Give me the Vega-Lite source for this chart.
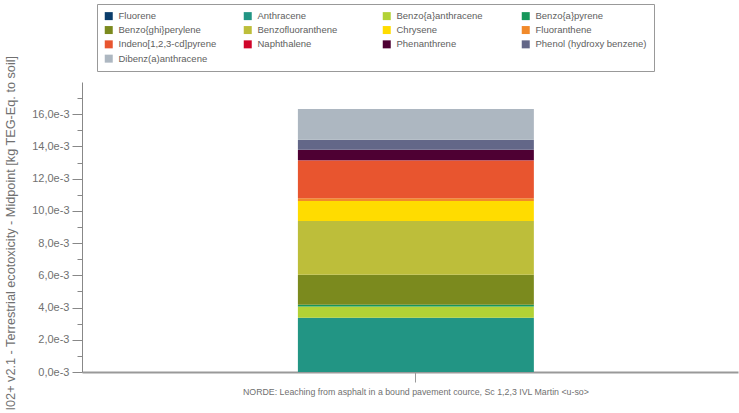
{
  "$schema": "https://vega.github.io/schema/vega-lite/v6.json",
  "width": 656,
  "height": 290,
  "autosize": {"type": "none"},
  "padding": {"left": 82, "top": 82, "right": 1, "bottom": 41},
  "background": "white",
  "config": {
    "view": {"stroke": null},
    "font": "Liberation Sans",
    "axis": {"grid": false, "labelFont": "Liberation Sans", "titleFont": "Liberation Sans"}
  },
  "data": {
    "values": [
      {"s": "NORDE: Leaching from asphalt in a bound pavement cource, Sc 1,2,3 IVL Martin <u-so>", "c": "Fluorene", "k": 1, "v": 0.0},
      {"s": "NORDE: Leaching from asphalt in a bound pavement cource, Sc 1,2,3 IVL Martin <u-so>", "c": "Anthracene", "k": 2, "v": 0.00336},
      {"s": "NORDE: Leaching from asphalt in a bound pavement cource, Sc 1,2,3 IVL Martin <u-so>", "c": "Benzo{a}anthracene", "k": 3, "v": 0.00070},
      {"s": "NORDE: Leaching from asphalt in a bound pavement cource, Sc 1,2,3 IVL Martin <u-so>", "c": "Benzo{a}pyrene", "k": 4, "v": 0.00012},
      {"s": "NORDE: Leaching from asphalt in a bound pavement cource, Sc 1,2,3 IVL Martin <u-so>", "c": "Benzo{ghi}perylene", "k": 5, "v": 0.00186},
      {"s": "NORDE: Leaching from asphalt in a bound pavement cource, Sc 1,2,3 IVL Martin <u-so>", "c": "Benzofluoranthene", "k": 6, "v": 0.00334},
      {"s": "NORDE: Leaching from asphalt in a bound pavement cource, Sc 1,2,3 IVL Martin <u-so>", "c": "Chrysene", "k": 7, "v": 0.00124},
      {"s": "NORDE: Leaching from asphalt in a bound pavement cource, Sc 1,2,3 IVL Martin <u-so>", "c": "Fluoranthene", "k": 8, "v": 0.00017},
      {"s": "NORDE: Leaching from asphalt in a bound pavement cource, Sc 1,2,3 IVL Martin <u-so>", "c": "Indeno[1,2,3-cd]pyrene", "k": 9, "v": 0.00233},
      {"s": "NORDE: Leaching from asphalt in a bound pavement cource, Sc 1,2,3 IVL Martin <u-so>", "c": "Naphthalene", "k": 10, "v": 0.00003},
      {"s": "NORDE: Leaching from asphalt in a bound pavement cource, Sc 1,2,3 IVL Martin <u-so>", "c": "Phenanthrene", "k": 11, "v": 0.00064},
      {"s": "NORDE: Leaching from asphalt in a bound pavement cource, Sc 1,2,3 IVL Martin <u-so>", "c": "Phenol (hydroxy benzene)", "k": 12, "v": 0.00062},
      {"s": "NORDE: Leaching from asphalt in a bound pavement cource, Sc 1,2,3 IVL Martin <u-so>", "c": "Dibenz(a)anthracene", "k": 13, "v": 0.00192}
    ]
  },
  "mark": {"type": "bar", "stroke": null},
  "encoding": {
    "x": {
      "field": "s",
      "type": "nominal",
      "scale": {"paddingInner": 0, "paddingOuter": 0.89, "align": 0.514},
      "axis": {
        "title": null,
        "labelAngle": 0,
        "labelFontSize": 8.8,
        "labelColor": "#707070",
        "labelPadding": 5,
        "labelLimit": 700,
        "domainColor": "#999999",
        "domainWidth": 2,
        "tickColor": "#999999",
        "tickSize": 10,
        "tickWidth": 1
      }
    },
    "y": {
      "field": "v",
      "type": "quantitative",
      "stack": "zero",
      "scale": {"domain": [0, 0.018], "nice": false},
      "axis": {
        "values": [0, 0.001, 0.002, 0.003, 0.004, 0.005, 0.006, 0.007, 0.008, 0.009, 0.010, 0.011, 0.012, 0.013, 0.014, 0.015, 0.016, 0.017],
        "labelExpr": "round(datum.value*1000) % 2 === 0 ? replace(format(datum.value*1000, '.1f'), '.', ',') + 'e-3' : ''",
        "labelFontSize": 11,
        "labelColor": "#707070",
        "labelPadding": 3,
        "tickSize": {"condition": {"test": "round(datum.value*1000) % 2 === 0", "value": 10}, "value": 5},
        "tickColor": "#888888",
        "domainColor": "#888888",
        "title": "I02+ v2.1 - Terrestrial ecotoxicity - Midpoint [kg TEG-Eq. to soil]",
        "titleFontSize": 12.7,
        "titleFontWeight": "normal",
        "titleColor": "#707070",
        "titleAngle": 270,
        "titleAlign": "left",
        "titleBaseline": "middle",
        "titleX": -72,
        "titleY": 328
      }
    },
    "color": {
      "field": "c",
      "type": "nominal",
      "scale": {
        "domain": ["Fluorene", "Anthracene", "Benzo{a}anthracene", "Benzo{a}pyrene", "Benzo{ghi}perylene", "Benzofluoranthene", "Chrysene", "Fluoranthene", "Indeno[1,2,3-cd]pyrene", "Naphthalene", "Phenanthrene", "Phenol (hydroxy benzene)", "Dibenz(a)anthracene"],
        "range": ["#0a3d6b", "#229584", "#b2d235", "#16965a", "#7b8a1e", "#bdbe3a", "#ffdc00", "#f18a2a", "#e8552f", "#d0052a", "#4e0033", "#636788", "#adb7c1"]
      },
      "legend": {
        "title": null,
        "orient": "none",
        "legendX": 15,
        "legendY": -78,
        "direction": "horizontal",
        "columns": 4,
        "gridAlign": "all",
        "columnPadding": 13,
        "rowPadding": 3.3,
        "padding": 7,
        "strokeColor": "#999999",
        "symbolType": "square",
        "symbolSize": 64,
        "symbolStrokeWidth": 0,
        "symbolOpacity": 1,
        "labelFontSize": 9.5,
        "labelColor": "#606060",
        "labelOffset": 5,
        "labelLimit": 200
      }
    },
    "order": {"field": "k", "type": "quantitative"}
  }
}
